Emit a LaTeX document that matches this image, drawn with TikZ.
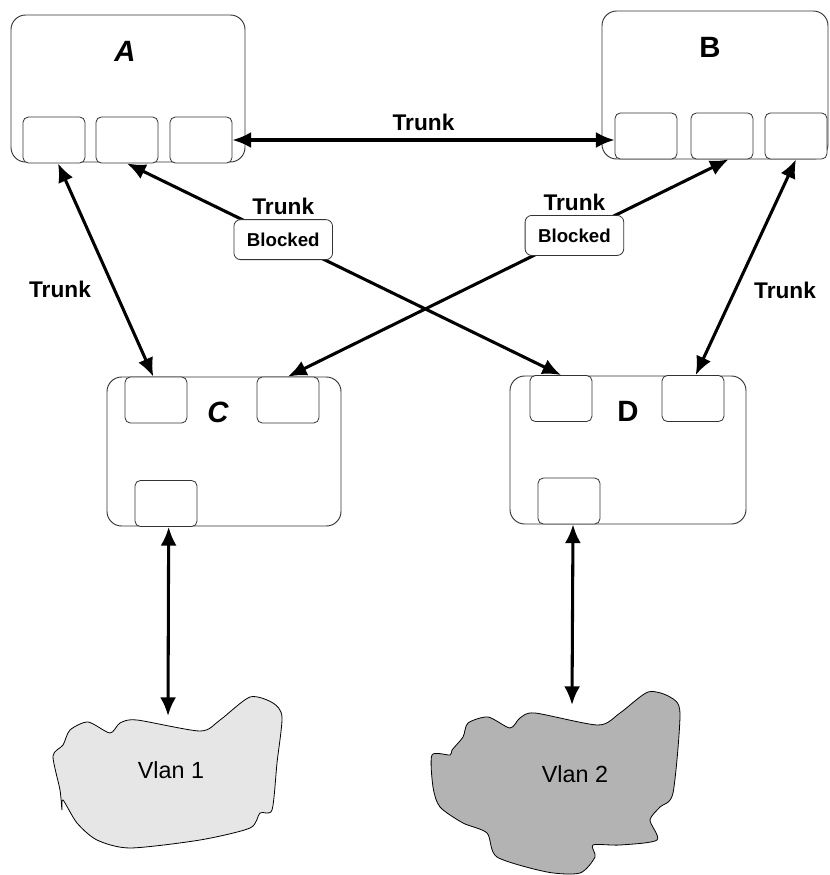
\documentclass[tikz,border=0pt]{standalone}
\usepackage{fontspec}
\setmainfont{Liberation Sans}
\usetikzlibrary{arrows.meta, positioning}

\definecolor{vlanlight}{HTML}{E6E6E6}
\definecolor{vlandark}{HTML}{B3B3B3}

\begin{document}
\begin{tikzpicture}[x=0.75pt, y=-0.75pt,
      sw/.style={draw=black!80, line width=0.7pt, rounded corners=11pt, inner sep=0pt},
      port/.style={draw=black!80, fill=white, line width=0.6pt, rounded corners=4pt, minimum width=46.5pt, minimum height=34.5pt, inner sep=0pt},
      swname/.style={font=\fontsize{22}{22}\selectfont\bfseries},
      lab/.style={font=\fontsize{17}{17}\selectfont\bfseries, inner sep=1pt},
      blk/.style={draw=black!80, fill=white, line width=0.6pt, rounded corners=5pt, minimum width=74pt, minimum height=30pt, inner sep=0pt, font=\fontsize{14}{14}\selectfont\bfseries},
      cloud/.style={draw=black, line width=0.6pt},
      vl/.style={font=\fontsize{17.5}{17.5}\selectfont},
      arr/.style={{Latex[length=14pt,width=12pt]}-{Latex[length=14pt,width=12pt]}, line width=2.3pt}]
    \useasboundingbox (0,0) rectangle (830,875);
    % switches
    \node[sw, minimum width=175.5pt, minimum height=110.25pt] (swA) at (128,88.5) {};
    \node[sw, minimum width=169.5pt, minimum height=111pt] (swB) at (715,85) {};
    \node[sw, minimum width=175.5pt, minimum height=111.75pt] (swC) at (224,451.5) {};
    \node[sw, minimum width=177pt, minimum height=111pt] (swD) at (628,450) {};
    \node[swname] (nameA) at (125,51) {\itshape A};
    \node[swname] (nameB) at (710,47) {B};
    \node[swname] (nameC) at (218,412) {\itshape C};
    \node[swname] (nameD) at (628,411) {D};
    % ports
    \node[port] (a1) at (54,140) {};
    \node[port] (a2) at (127,140) {};
    \node[port] (a3) at (201,140) {};
    \node[port] (b1) at (646,136) {};
    \node[port] (b2) at (722,136) {};
    \node[port] (b3) at (796,136) {};
    \node[port] (c1) at (156,400) {};
    \node[port] (c2) at (288,400) {};
    \node[port] (c3) at (166,503.5) {};
    \node[port] (d1) at (561,398.5) {};
    \node[port] (d2) at (693,398.5) {};
    \node[port] (d3) at (569,501) {};
    % vlans
    \draw[cloud, fill=vlanlight] plot[smooth cycle, tension=0.45] coordinates {
      (53,756) (63,745) (70,730) (88,722) (110,733) (120,723) (137,720) (200,731)
      (220,720) (250,697) (273,703) (282,717) (277,763) (272,810) (260,813) (250,828)
      (200,840) (130,848) (97,840) (77,823) (63,800) (62,810) (60,790)};
    \draw[cloud, fill=vlandark] plot[smooth cycle, tension=0.45] coordinates {
      (432,755) (450,755) (452,750) (463,737) (468,723) (488,717) (510,728) (520,718)
      (535,713) (598,725) (620,713) (648,692) (670,697) (680,713) (673,793) (660,807)
      (650,820) (657,840) (620,845) (593,845) (595,857) (580,873) (547,872) (497,857)
      (487,833) (463,823) (440,807) (433,787)};
    \node[vl] (vlan1) at (171,770) {Vlan 1};
    \node[vl] (vlan2) at (575,774) {Vlan 2};
    \coordinate (v1top) at (168,716);
    \coordinate (v2top) at (572,705);
    % links
    \draw[arr] (a3.east) -- (a3.east -| b1.west) node[midway, above=5pt, lab] (trAB) {Trunk};
    \draw[arr] ([xshift=3pt]a1.south) -- ([xshift=-2pt]c1.north);
    \draw[arr] (b3.south) -- ([xshift=2pt]d2.north);
    \draw[arr] (a2.south) -- (d1.north) node[pos=.36, blk] (blk1) {Blocked};
    \draw[arr] ([xshift=5pt]b2.south) -- (c2.north) node[pos=.35, blk] (blk2) {Blocked};
    \draw[arr] ([xshift=2pt]c3.south) -- (v1top);
    \draw[arr] ([xshift=3pt]d3.south) -- (v2top);
    \node[lab, above=2pt of blk1] (tr1) {Trunk};
    \node[lab, above=2pt of blk2] (tr2) {Trunk};
    \node[lab] (trAC) at (60,289) {Trunk};
    \node[lab] (trBD) at (785,290) {Trunk};
  \end{tikzpicture}
\end{document}
